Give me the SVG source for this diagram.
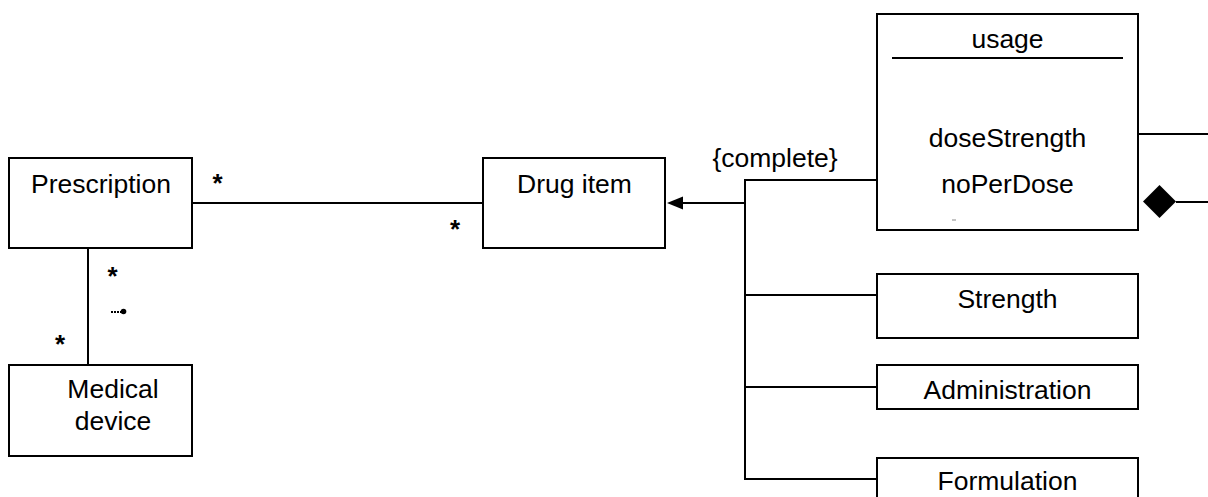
<svg xmlns="http://www.w3.org/2000/svg" width="1208" height="497" viewBox="0 0 1208 497">
  <style>
    .box { fill: #ffffff; stroke: #000000; stroke-width: 2; }
    .ln { fill: none; stroke: #000000; stroke-width: 2; }
    .lbl { font-family: "Liberation Sans", Arial, sans-serif; font-size: 26.5px; fill: #000000; text-anchor: middle; }
    .mult { font-family: "Liberation Sans", Arial, sans-serif; font-size: 26px; font-weight: bold; fill: #000000; text-anchor: middle; }
  </style>
  <rect width="1208" height="497" fill="#ffffff"/>

  <!-- connectors -->
  <g id="connectors">
    <!-- Prescription to Drug item -->
    <line class="ln" x1="192" y1="203" x2="483" y2="203"/>
    <!-- Prescription to Medical device -->
    <line class="ln" x1="88" y1="248" x2="88" y2="365"/>
    <!-- generalization tree -->
    <line class="ln" x1="683" y1="203" x2="745" y2="203" stroke-width="2.5"/>
    <polygon points="667,203 683,196.5 683,209.5" fill="#000000"/>
    <polyline class="ln" points="877,180 745,180 745,479 877,479"/>
    <line class="ln" x1="745" y1="295" x2="877" y2="295"/>
    <line class="ln" x1="745" y1="387" x2="877" y2="387"/>
    <!-- usage associations -->
    <line class="ln" x1="1138" y1="134" x2="1208" y2="134"/>
    <line class="ln" x1="1176" y1="202" x2="1208" y2="202"/>
    <polygon points="1143,201.5 1159.5,185 1176,201.5 1159.5,218" fill="#000000"/>
    <!-- multiplicities -->
    <text class="mult" x="217.5" y="192">*</text>
    <text class="mult" x="455" y="238">*</text>
    <text class="mult" x="112.5" y="285">*</text>
    <text class="mult" x="60" y="353">*</text>
    <!-- small key mark -->
    <g id="key-mark">
      <line x1="111" y1="312" x2="121" y2="312" stroke="#000000" stroke-width="2" stroke-dasharray="2,1"/>
      <circle cx="123.5" cy="311.5" r="2.8" fill="#000000"/>
    </g>
    <text class="lbl" x="775" y="167">{complete}</text>
  </g>

  <g id="prescription">
    <rect class="box" x="9" y="158" width="183" height="90"/>
    <text class="lbl" x="101" y="193">Prescription</text>
  </g>

  <g id="drug-item">
    <rect class="box" x="483" y="158" width="182" height="90"/>
    <text class="lbl" x="574.5" y="193">Drug item</text>
  </g>

  <g id="medical-device">
    <rect class="box" x="9" y="365" width="183" height="91"/>
    <text class="lbl" x="113" y="398">Medical</text>
    <text class="lbl" x="113" y="430">device</text>
  </g>

  <g id="usage">
    <rect class="box" x="877" y="14" width="261" height="216"/>
    <text class="lbl" x="1007.5" y="48">usage</text>
    <line class="ln" x1="892" y1="58" x2="1123" y2="58"/>
    <text class="lbl" x="1007.5" y="147">doseStrength</text>
    <text class="lbl" x="1007.5" y="193">noPerDose</text>
    <line x1="952" y1="220" x2="956" y2="220" stroke="#888888" stroke-width="1"/>
  </g>

  <g id="strength">
    <rect class="box" x="877" y="274" width="261" height="64"/>
    <text class="lbl" x="1007.5" y="308">Strength</text>
  </g>

  <g id="administration">
    <rect class="box" x="877" y="365" width="261" height="44"/>
    <text class="lbl" x="1007.5" y="399">Administration</text>
  </g>

  <g id="formulation">
    <rect class="box" x="877" y="458" width="261" height="60"/>
    <text class="lbl" x="1007.5" y="490">Formulation</text>
  </g>
</svg>
